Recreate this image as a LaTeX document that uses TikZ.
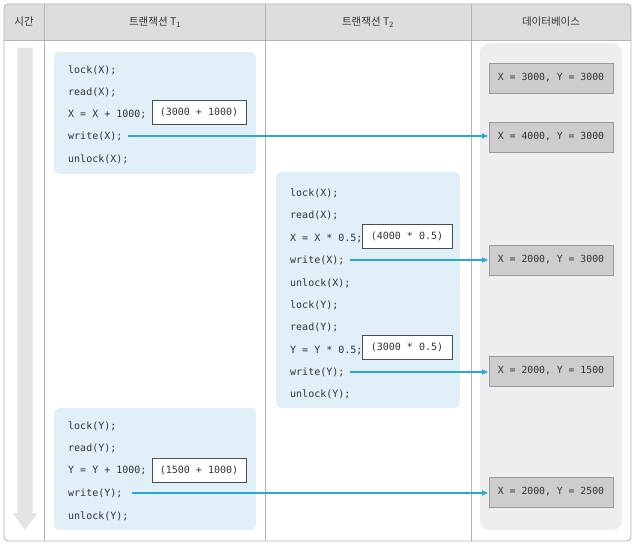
\documentclass[tikz,border=0pt]{standalone}
\usepackage{fontspec}
\newfontfamily\kr{Noto Sans CJK KR}
\setmonofont{DejaVu Sans Mono}
\usetikzlibrary{arrows.meta}
\definecolor{hdr}{HTML}{DCDDDE}
\definecolor{frame}{HTML}{B4B4B4}
\definecolor{tblue}{HTML}{E1F0F8}
\definecolor{dbpanel}{HTML}{EEEEF0}
\definecolor{dbbox}{HTML}{CDCDCD}
\definecolor{dbedge}{HTML}{9A9A9A}
\definecolor{arr}{HTML}{2AA8D8}
\definecolor{timec}{HTML}{E4E4E6}
\definecolor{codec}{HTML}{333333}
\begin{document}
\begin{tikzpicture}[x=1pt,y=-1pt,
  code/.style={anchor=west,inner sep=0pt,yshift=-1pt,font=\ttfamily\fontsize{10}{11}\selectfont,text=codec},
  calc/.style={draw=black!70,fill=white,line width=0.6pt,minimum width=94pt,minimum height=24pt,inner sep=0pt,font=\ttfamily\fontsize{10}{11}\selectfont,text=codec},
  dbstate/.style={draw=dbedge,fill=dbbox,line width=0.8pt,minimum width=124pt,minimum height=30pt,inner sep=0pt,font=\ttfamily\fontsize{9.8}{11}\selectfont,text=codec},
  hd/.style={font=\kr\fontsize{10.5}{11}\selectfont,text=black!80},
  wr/.style={draw=arr,line width=1.9pt,-{Latex[length=6.5pt,width=6pt]}},
  block/.style={fill=tblue,rounded corners=5pt}]
\useasboundingbox (0,0) rectangle (635,548);
% table
\fill[hdr,rounded corners=4pt] (4,4) rectangle (631,40);
\fill[hdr] (4,30) rectangle (631,40);
\draw[frame,line width=0.9pt,rounded corners=4pt] (4,4) rectangle (631,541);
\draw[frame,line width=0.9pt] (4,40) -- (631,40);
\draw[frame,line width=0.9pt] (44,4) -- (44,541) (265,4) -- (265,541) (471,4) -- (471,541);
\node[hd] (h0) at (24,22) {시간};
\node[hd] (h1) at (155,22) {트랜잭션 T\textsubscript{1}};
\node[hd] (h2) at (368,22) {트랜잭션 T\textsubscript{2}};
\node[hd] (h3) at (551,22) {데이터베이스};
% time arrow
\fill[timec] (17.5,48) -- (32.5,48) -- (32.5,513) -- (37.5,513) -- (25,530) -- (12.5,513) -- (17.5,513) -- cycle;
% blocks
\fill[block] (54,52) rectangle (256,174);
\fill[block] (276,172) rectangle (460,408);
\fill[block] (54,408) rectangle (256,530);
\fill[dbpanel,rounded corners=9pt] (480,43) rectangle (622,530);
% T1 first
\node[code] (a1) at (68,69) {lock(X);};
\node[code] (a2) at (68,91) {read(X);};
\node[code] (a3) at (68,113) {X = X + 1000;};
\node[code] (a4) at (68,135) {write(X);};
\node[code] (a5) at (68,158) {unlock(X);};
\node[calc] (c1) at (199,112) {(3000 + 1000)};
% T2
\node[code] (b1) at (290,192) {lock(X);};
\node[code] (b2) at (290,214) {read(X);};
\node[code] (b3) at (290,237) {X = X * 0.5;};
\node[code] (b4) at (290,259) {write(X);};
\node[code] (b5) at (290,282) {unlock(X);};
\node[code] (b6) at (290,304) {lock(Y);};
\node[code] (b7) at (290,326) {read(Y);};
\node[code] (b8) at (290,349) {Y = Y * 0.5;};
\node[code] (b9) at (290,371) {write(Y);};
\node[code] (b10) at (290,393) {unlock(Y);};
\node[calc,minimum width=90pt] (c2) at (407,236.5) {(4000 * 0.5)};
\node[calc,minimum width=90pt] (c3) at (407,347.5) {(3000 * 0.5)};
% T1 second
\node[code] (d1) at (68,425) {lock(Y);};
\node[code] (d2) at (68,447) {read(Y);};
\node[code] (d3) at (68,469) {Y = Y + 1000;};
\node[code] (d4) at (68,492) {write(Y);};
\node[code] (d5) at (68,515) {unlock(Y);};
\node[calc] (c4) at (199,470) {(1500 + 1000)};
% DB states
\node[dbstate] (s0) at (551,78) {X = 3000, Y = 3000};
\node[dbstate] (s1) at (551,137) {X = 4000, Y = 3000};
\node[dbstate] (s2) at (551,260) {X = 2000, Y = 3000};
\node[dbstate] (s3) at (551,371) {X = 2000, Y = 1500};
\node[dbstate] (s4) at (551,492) {X = 2000, Y = 2500};
% arrows
\draw[wr] ([xshift=5pt]a4.east) -- (a4.east -| s1.west);
\draw[wr] ([xshift=5pt]b4.east) -- (b4.east -| s2.west);
\draw[wr] ([xshift=5pt]b9.east) -- (b9.east -| s3.west);
\draw[wr] ([xshift=9pt]d4.east) -- (d4.east -| s4.west);
\end{tikzpicture}
\end{document}
